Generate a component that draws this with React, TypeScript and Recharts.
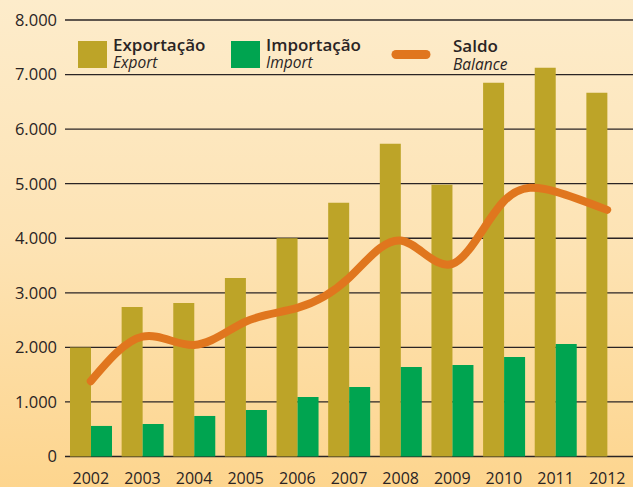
import React from 'react';
import { ComposedChart, Bar, Line, XAxis, YAxis, CartesianGrid, Customized } from 'recharts';

const years = ['2002', '2003', '2004', '2005', '2006', '2007', '2008', '2009', '2010', '2011', '2012'];
const exportacao = [2000, 2740, 2815, 3273, 4000, 4650, 5730, 4980, 6850, 7125, 6665];
const importacao = [560, 596, 743, 853, 1091, 1275, 1641, 1678, 1825, 2063, null];
const saldo = [1380, 2196, 2044, 2472, 2723, 3273, 3958, 3530, 4680, 4856, 4520];
const yTicks = [0, 1000, 2000, 3000, 4000, 5000, 6000, 7000, 8000];

const legendItems = [
  { label: 'Exportação', sub: 'Export' },
  { label: 'Importação', sub: 'Import' },
  { label: 'Saldo', sub: 'Balance' },
];

const data = years.map((y, i) => ({
  year: y,
  exportacao: exportacao[i],
  importacao: importacao[i],
  saldo: saldo[i],
}));

const EXPORT_COLOR = '#bda428';
const IMPORT_COLOR = '#00a450';
const SALDO_COLOR = '#e0761e';
const TEXT = '#2a2424';
const FONT = "'Open Sans', sans-serif";

const fmt = (v: number) => (v === 0 ? '0' : v.toLocaleString('de-DE'));

const LegendLayer = () => (
  <g fontFamily={FONT} fill={TEXT}>
    <rect x={78} y={41} width={29} height={27} fill={EXPORT_COLOR} />
    <text x={113} y={51} fontSize={17} fontWeight={600}>{legendItems[0].label}</text>
    <text x={113} y={68} fontSize={15.5} fontStyle="italic">{legendItems[0].sub}</text>
    <rect x={231} y={41} width={29} height={27} fill={IMPORT_COLOR} />
    <text x={266} y={51} fontSize={17} fontWeight={600}>{legendItems[1].label}</text>
    <text x={266} y={68} fontSize={15.5} fontStyle="italic">{legendItems[1].sub}</text>
    <line x1={396} y1={54.5} x2={426} y2={54.5} stroke={SALDO_COLOR} strokeWidth={9} strokeLinecap="round" />
    <text x={453} y={52} fontSize={17} fontWeight={600}>{legendItems[2].label}</text>
    <text x={453} y={70} fontSize={15.5} fontStyle="italic">{legendItems[2].sub}</text>
  </g>
);

export default function App() {
  return (
    <div
      style={{
        position: 'absolute',
        left: 0,
        top: 0,
        width: 633,
        height: 487,
        background: 'linear-gradient(to bottom, #fdeccb 0%, #fde3b4 50%, #fdd58e 100%)',
      }}
    >
      <ComposedChart
        width={633}
        height={487}
        data={data}
        margin={{ top: 20, right: 0, bottom: 0, left: 0 }}
        barCategoryGap={5}
        barGap={0}
      >
        <CartesianGrid vertical={false} stroke={TEXT} strokeWidth={1.3} />
        <XAxis
          dataKey="year"
          axisLine={false}
          tickLine={false}
          tickSize={0}
          tickMargin={16}
          height={30.5}
          interval={0}
          tick={{ fill: TEXT, fontSize: 16, fontFamily: FONT }}
        />
        <YAxis
          domain={[0, 8000]}
          ticks={yTicks}
          axisLine={false}
          tickLine={false}
          tickSize={0}
          tickMargin={8}
          width={65}
          tickFormatter={fmt}
          tick={{ fill: TEXT, fontSize: 16.5, fontFamily: FONT }}
        />
        <Bar dataKey="exportacao" fill={EXPORT_COLOR} isAnimationActive={false} />
        <Bar dataKey="importacao" fill={IMPORT_COLOR} isAnimationActive={false} />
        <Line
          dataKey="saldo"
          type="natural"
          stroke={SALDO_COLOR}
          strokeWidth={8}
          strokeLinecap="round"
          dot={false}
          activeDot={false}
          isAnimationActive={false}
        />
        <Customized component={LegendLayer} />
      </ComposedChart>
    </div>
  );
}
